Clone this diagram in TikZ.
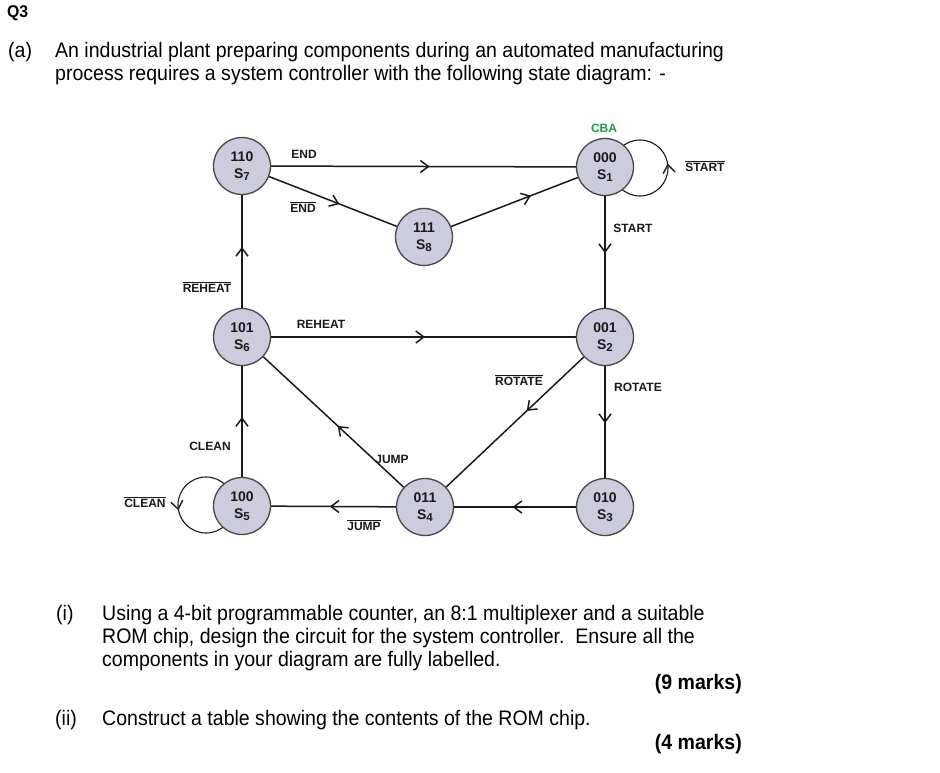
\documentclass[tikz,border=0pt]{standalone}
\usepackage{fontspec}
\setmainfont{Liberation Sans}
\newfontfamily\bodyfont{Liberation Sans}[FakeStretch=0.93]
\usetikzlibrary{arrows.meta,decorations.markings,backgrounds}
\definecolor{nodefill}{RGB}{204,204,222}
\definecolor{nodeline}{RGB}{70,70,70}
\definecolor{cbagreen}{RGB}{30,155,75}
\definecolor{ink}{RGB}{25,25,25}
\newcommand\ssub[2]{#1\raisebox{-2.5pt}{\fontsize{11.5}{11.5}\selectfont#2}}
\newcommand\olbl[1]{$\overline{\mbox{#1}}$}
\tikzset{
  st/.style={circle, draw=nodeline, line width=1.3pt, fill=nodefill, minimum size=57pt,
    inner sep=0pt, align=center, text=ink, font=\bfseries\fontsize{14}{17}\selectfont},
  lbl/.style={inner sep=0pt, text=ink, font=\bfseries\fontsize{12}{14}\selectfont},
  body/.style={inner sep=0pt, anchor=base west, text=black, font=\bodyfont\fontsize{21}{23}\selectfont},
  bodyb/.style={inner sep=0pt, anchor=base east, text=black, font=\bodyfont\bfseries\fontsize{21}{23}\selectfont},
  tr/.style={draw=ink, line width=1.5pt, postaction={decorate},
    decoration={markings, mark=at position #1 with {\arrow{Straight Barb[length=8pt,width=12pt,line width=1.5pt]}}}},
  loopst/.style={draw=ink, line width=1.1pt, postaction={decorate},
    decoration={markings, mark=at position #1 with {\arrow{Straight Barb[length=8pt,width=12pt,line width=1.4pt]}}}},
}
\begin{document}
\begin{tikzpicture}[x=1pt,y=-1pt]
\path[use as bounding box] (0,0) rectangle (940,773);

% texts
\node[inner sep=0pt, anchor=base west, font=\bodyfont\bfseries\fontsize{17}{19}\selectfont] (q3) at (7,18) {Q3};
\node[body] (pa) at (8,58) {(a)};
\node[body] (pa1) at (55,58) {An industrial plant preparing components during an automated manufacturing};
\node[body] (pa2) at (55,81) {process requires a system controller with the following state diagram: -};
\node[body] (pi) at (56,620) {(i)};
\node[body] (pi1) at (102,620) {Using a 4-bit programmable counter, an 8:1 multiplexer and a suitable};
\node[body] (pi2) at (102,643) {ROM chip, design the circuit for the system controller.\ \ Ensure all the};
\node[body] (pi3) at (102,666) {components in your diagram are fully labelled.};
\node[bodyb] (m9) at (742,689) {(9 marks)};
\node[body] (pii) at (55,725) {(ii)};
\node[body] (pii1) at (102,725) {Construct a table showing the contents of the ROM chip.};
\node[bodyb] (m4) at (742,749) {(4 marks)};

% states
\node[st] (S7) at (242,166) {110\\\ssub{S}{7}};
\node[st] (S1) at (605,167) {000\\\ssub{S}{1}};
\node[st] (S8) at (424,237) {111\\\ssub{S}{8}};
\node[st] (S6) at (242,337) {101\\\ssub{S}{6}};
\node[st] (S2) at (605,337) {001\\\ssub{S}{2}};
\node[st] (S5) at (242,506) {100\\\ssub{S}{5}};
\node[st] (S4) at (425,507) {011\\\ssub{S}{4}};
\node[st] (S3) at (605,507) {010\\\ssub{S}{3}};

% self loops (behind the states)
\begin{scope}[on background layer]
\draw[loopst=0.025] (S1) ++(63,1) arc[start angle=0, end angle=-360, radius=28];
\draw[loopst=0.53] (S5) ++(-8,-1) arc[start angle=0, end angle=-360, radius=28];
\end{scope}

% transitions
\draw[tr=0.52] (S7) -- (S1);
\draw[tr=0.55] (S7) -- (S8);
\draw[tr=0.63] (S8) -- (S1);
\draw[tr=0.51] (S1) -- (S2);
\draw[tr=0.54] (S6) -- (S7);
\draw[tr=0.505] (S6) -- (S2);
\draw[tr=0.415] (S2) -- (S4);
\draw[tr=0.51] (S2) -- (S3);
\draw[tr=0.52] (S3) -- (S4);
\draw[tr=0.47] (S4) -- (S6);
\draw[tr=0.53] (S4) -- (S5);
\draw[tr=0.54] (S5) -- (S6);

% labels
\node[lbl, text=cbagreen] (cba) at (604,128) {CBA};
\node[lbl] (lend) at (304,154) {END};
\node[lbl] (lnend) at (303,207) {\olbl{END}};
\node[lbl] (lnstart) at (705,166) {\olbl{START}};
\node[lbl] (lstart) at (633,228) {START};
\node[lbl] (lnreheat) at (207,287) {\olbl{REHEAT}};
\node[lbl] (lreheat) at (321,324) {REHEAT};
\node[lbl] (lnrotate) at (519,380) {\olbl{ROTATE}};
\node[lbl] (lrotate) at (638,387) {ROTATE};
\node[lbl] (lclean) at (210,446) {CLEAN};
\node[lbl] (ljump) at (392,459) {JUMP};
\node[lbl] (lnjump) at (364,525) {\olbl{JUMP}};
\node[lbl] (lnclean) at (145,502) {\olbl{CLEAN}};
\end{tikzpicture}
\end{document}
